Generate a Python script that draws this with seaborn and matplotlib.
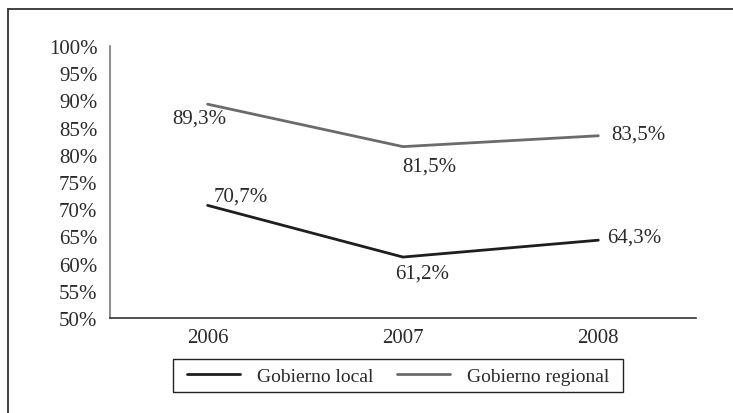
import matplotlib
matplotlib.use("Agg")
import matplotlib.pyplot as plt
import seaborn as sns
import pandas as pd
from matplotlib.lines import Line2D
from matplotlib.patches import Rectangle

years = ["2006", "2007", "2008"]
local_vals = [0.707, 0.612, 0.643]
regional_vals = [0.893, 0.815, 0.835]
local_labels = ["70,7%", "61,2%", "64,3%"]
regional_labels = ["89,3%", "81,5%", "83,5%"]
series_names = ["Gobierno local", "Gobierno regional"]
yticks = [0.50, 0.55, 0.60, 0.65, 0.70, 0.75, 0.80, 0.85, 0.90, 0.95, 1.00]
ytick_labels = ["50%", "55%", "60%", "65%", "70%", "75%", "80%", "85%", "90%", "95%", "100%"]

sns.set_theme(style="white")
plt.rcParams["font.family"] = ["Liberation Serif", "DejaVu Serif"]

df = pd.DataFrame({
    "year": years * 2,
    "value": local_vals + regional_vals,
    "serie": [series_names[0]] * 3 + [series_names[1]] * 3,
})
df["x"] = [0, 1, 2] * 2

fig = plt.figure(figsize=(7.33, 4.14), dpi=100)
ax = fig.add_axes([0.150, 0.2295, 0.7995, 0.657])
palette = {series_names[0]: "#1e1e1e", series_names[1]: "#6b6b6b"}
sns.lineplot(data=df, x="x", y="value", hue="serie", palette=palette, ax=ax,
             linewidth=2, legend=False)

ax.set_xlim(-0.5, 2.5)
ax.set_ylim(0.5, 1.0)
ax.set_xticks([0, 1, 2])
ax.set_xticklabels(years)
ax.set_yticks(yticks)
ax.set_yticklabels(ytick_labels)
ax.set_xlabel("")
ax.set_ylabel("")
ax.tick_params(axis="both", length=0, labelsize=15, colors="#2a2a2a")
ax.tick_params(axis="x", pad=7)
ax.tick_params(axis="y", pad=9)
for s in ["top", "right"]:
    ax.spines[s].set_visible(False)
ax.spines["left"].set_color("#7a7a7a")
ax.spines["left"].set_linewidth(1.2)
ax.spines["bottom"].set_color("#333333")
ax.spines["bottom"].set_linewidth(1.2)

fs = 15
tc = "#2a2a2a"
reg_offsets = [(-6, -10), (19, -14), (29, 1.5)]
loc_offsets = [(24, 7), (14, -11.5), (26, 2)]
for i in range(3):
    ax.annotate(regional_labels[i], (i, regional_vals[i]), xytext=reg_offsets[i],
                textcoords="offset points", ha="center", va="center", fontsize=fs, color=tc)
    ax.annotate(local_labels[i], (i, local_vals[i]), xytext=loc_offsets[i],
                textcoords="offset points", ha="center", va="center", fontsize=fs, color=tc)

handles = [Line2D([], [], color=palette[n], linewidth=2) for n in series_names]
leg = fig.legend(handles, series_names, loc="center", bbox_to_anchor=(398 / 733, 1 - 377 / 414),
                 ncol=2, frameon=False, fontsize=14, handlelength=2.7,
                 columnspacing=1.24, borderpad=0.35, handletextpad=0.88, labelcolor=tc)

# legend box
fig.add_artist(Rectangle((173 / 733, 1 - 393 / 414), 450 / 733, 33 / 414, transform=fig.transFigure,
                         fill=False, edgecolor="#222222", linewidth=1.0))

# outer frame lines (top and left)
fig.add_artist(Line2D([8 / 733, 1.0], [1 - 9.5 / 414, 1 - 9.5 / 414], transform=fig.transFigure,
                      color="#333333", linewidth=1.3))
fig.add_artist(Line2D([8 / 733, 8 / 733], [0, 1 - 9.5 / 414], transform=fig.transFigure,
                      color="#333333", linewidth=1.3))

fig.savefig("out.png", dpi=100)
